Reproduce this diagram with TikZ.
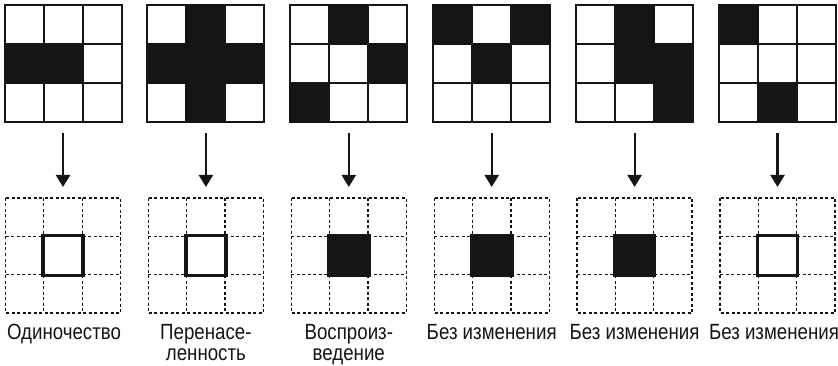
\documentclass[tikz,border=0pt]{standalone}
\usepackage{fontspec}
\setmainfont{Liberation Sans}[FakeStretch=0.85]
\usetikzlibrary{arrows.meta}
\definecolor{ink}{HTML}{151515}
\begin{document}
\begin{tikzpicture}[x=1pt,y=-1pt,
  topgrid/.style={minimum size=117pt,inner sep=0,outer sep=0,draw=none},
  botgrid/.style={minimum size=115pt,inner sep=0,outer sep=0,draw=none},
  solidline/.style={line width=2pt,draw=ink},
  dashline/.style={line width=1.3pt,draw=ink,dash pattern=on 3pt off 2.5pt},
  blackcell/.style={fill=ink},
  deadcell/.style={minimum size=40pt,inner sep=0,draw=ink,line width=3.6pt,fill=white},
  alivecell/.style={minimum size=43.6pt,inner sep=0,fill=ink},
  arr/.style={line width=2.2pt,draw=ink,-{Triangle[length=12pt,width=14pt]},shorten <=11pt,shorten >=11pt},
  lbl/.style={font=\fontsize{22}{21}\selectfont,align=center,inner sep=0,anchor=north,text=ink}]
\useasboundingbox[fill=white] (0,0) rectangle (838,366);
\foreach \i/\cells/\st/\dx/\txt [evaluate=\i as \cx using 63+142.9*\i] in {
  0/{1/0,1/1}/deadcell/1/{Одиночество},
  1/{0/1,1/0,1/1,1/2,2/1}/deadcell/0/{Перенасе-\\ленность},
  2/{0/1,1/2,2/0}/alivecell/0/{Воспроиз-\\ведение},
  3/{0/0,0/2,1/1}/alivecell/0/{Без изменения},
  4/{0/1,1/1,1/2,2/2}/alivecell/0/{Без изменения},
  5/{0/0,2/1}/deadcell/-3.5/{Без изменения}} {
  % top grid
  \node[topgrid] (t\i) at (\cx,63.5) {};
  \foreach \r/\c in \cells {
    \fill[blackcell] (\cx-58.5+39*\c,5+39*\r) rectangle ++(39,39);
  }
  \draw[solidline] (\cx-58.5,5) rectangle (\cx+58.5,122);
  \foreach \k in {1,2} {
    \draw[solidline] (\cx-58.5+39*\k,5) -- (\cx-58.5+39*\k,122);
    \draw[solidline] (\cx-58.5,5+39*\k) -- (\cx+58.5,5+39*\k);
  }
  % bottom grid
  \node[botgrid] (b\i) at (\cx,255.5) {};
  \draw[dashline] (\cx-57.5,198) rectangle (\cx+57.5,313);
  \foreach \k in {1,2} {
    \draw[dashline] (\cx-57.5+38.33*\k,198) -- (\cx-57.5+38.33*\k,313);
    \draw[dashline] (\cx-57.5,198+38.33*\k) -- (\cx+57.5,198+38.33*\k);
  }
  \node[\st] (c\i) at (b\i) {};
  % arrow
  \draw[arr] (t\i.south) -- (b\i.north);
  % label
  \node[lbl] (l\i) at ([xshift=\dx pt,yshift=-11pt]b\i.south) {\txt};
}
\end{tikzpicture}
\end{document}
